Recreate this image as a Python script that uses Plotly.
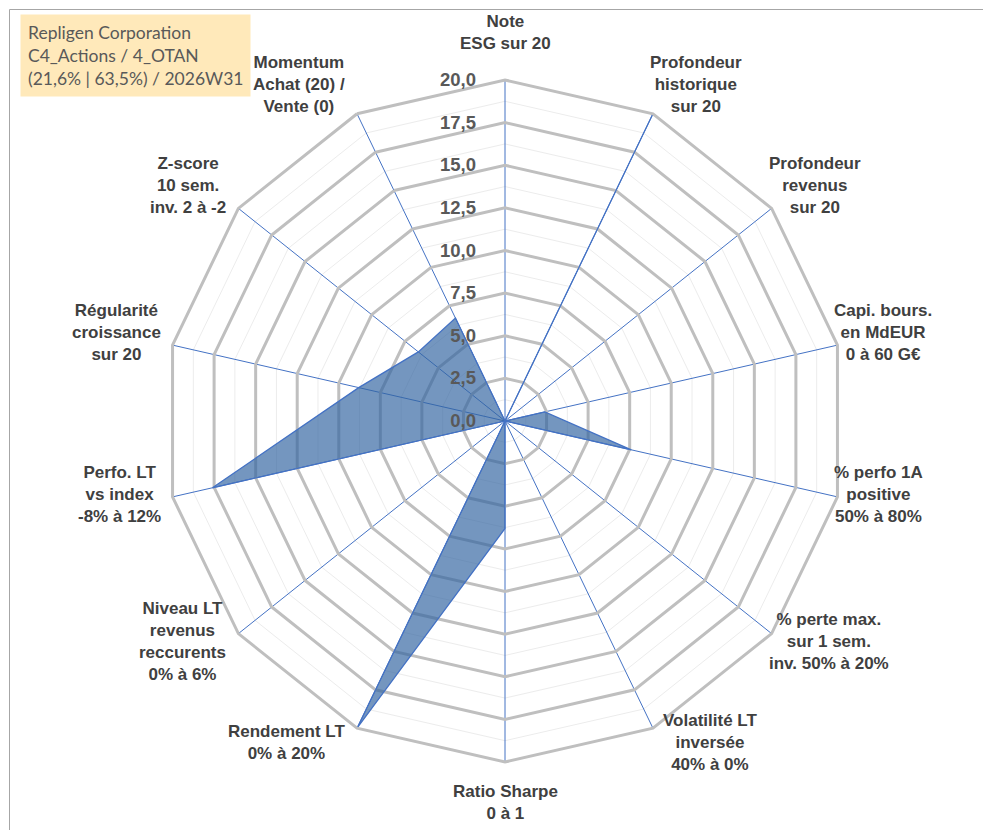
import math
import plotly.graph_objects as go

# axes of the radar, clockwise from the top
categories = [
    "Note<br>ESG sur 20",
    "Profondeur<br>historique<br>sur 20",
    "Profondeur<br>revenus<br>sur 20",
    "Capi. bours.<br>en MdEUR<br>0 à 60 G€",
    "% perfo 1A<br>positive<br>50% à 80%",
    "% perte max.<br>sur 1 sem.<br>inv. 50% à 20%",
    "Volatilité LT<br>inversée<br>40% à 0%",
    "Ratio Sharpe<br>0 à 1",
    "Rendement LT<br>0% à 20%",
    "Niveau LT<br>revenus<br>reccurents<br>0% à 6%",
    "Perfo. LT<br>vs index<br>-8% à 12%",
    "Régularité<br>croissance<br>sur 20",
    "Z-score<br>10 sem.<br>inv. 2 à -2",
    "Momentum<br>Achat (20) /<br>Vente (0)",
]
scores = [0, 20, 0, 2.4, 7.6, 0, 0, 6.3, 20, 0, 17.6, 8.8, 6.5, 6.7]

major_ticks = [0, 2.5, 5, 7.5, 10, 12.5, 15, 17.5, 20]
minor_step = 1.25

title_lines = ["Repligen Corporation", "C4_Actions / 4_OTAN", "(21,6% | 63,5%) / 2026W31"]

W, H = 991, 830
cx, cy, R = 497, 413, 341
dom_x = [(cx - R) / W, (cx + R) / W]
dom_y = [(H - cy - R) / H, (H - cy + R) / H]

fig = go.Figure()

# invisible trace so the minor-grid polar gets the same categories
fig.add_trace(go.Scatterpolar(
    r=[0] * len(categories), theta=categories, mode="none",
    hoverinfo="skip", showlegend=False, subplot="polar",
))

fig.add_trace(go.Scatterpolar(
    r=scores + scores[:1], theta=categories + categories[:1],
    mode="lines", fill="toself",
    line=dict(color="#4472C4", width=1.25),
    fillcolor="rgba(50,100,160,0.68)",
    showlegend=False, subplot="polar2",
))

# category labels placed around the polygon, Excel style
labels = []
n = len(categories)
for i, cat in enumerate(categories):
    a = 2 * math.pi * i / n
    s, c = math.sin(a), math.cos(a)
    if abs(s) < 0.1:
        px = cx
        py = cy - R - 25 if c > 0 else cy + R + 18
        xa, ya = "center", ("bottom" if c > 0 else "top")
    else:
        if s > 0:
            px = cx + s * R + (-5 if c > -0.8 else 8)
        else:
            px = cx + s * R - 10
        py = cy - c * R - c * 24 - 7.5
        xa, ya = ("left" if s > 0 else "right"), "middle"
    labels.append(dict(
        x=px / W, y=1 - py / H, xref="paper", yref="paper",
        xanchor=xa, yanchor=ya, align="center", text=cat, showarrow=False,
        font=dict(family="Liberation Sans", size=17, color="#404040", weight="bold"),
    ))

fig.update_layout(
    width=W, height=H,
    margin=dict(l=0, r=0, t=0, b=0),
    paper_bgcolor="white",
    separators=",.",
    showlegend=False,
    polar=dict(
        domain=dict(x=dom_x, y=dom_y),
        gridshape="linear",
        bgcolor="white",
        radialaxis=dict(range=[0, 20], dtick=minor_step, showticklabels=False,
                        ticks="", showline=False, gridcolor="#ECECEC", gridwidth=1),
        angularaxis=dict(direction="clockwise", rotation=90, showticklabels=False,
                         ticks="", showgrid=False, showline=False),
    ),
    polar2=dict(
        domain=dict(x=dom_x, y=dom_y),
        gridshape="linear",
        bgcolor="rgba(0,0,0,0)",
        radialaxis=dict(
            range=[0, 20], tickvals=major_ticks, tickformat=".1f",
            angle=90, side="counterclockwise", tickangle=90,
            ticks="outside", ticklen=22, tickcolor="rgba(0,0,0,0)", showline=False,
            gridcolor="#BFBFBF", gridwidth=3,
            tickfont=dict(family="Liberation Sans", size=18.5, color="#595959", weight="bold"),
        ),
        angularaxis=dict(
            direction="clockwise", rotation=90, ticks="", showticklabels=False,
            gridcolor="#4472C4", gridwidth=1,
            linecolor="#BFBFBF", linewidth=3,
        ),
    ),
    annotations=labels + [dict(
        x=12 / W, y=1 - 6 / H, xref="paper", yref="paper",
        xanchor="left", yanchor="top", align="left",
        text="<br>".join(title_lines), showarrow=False,
        bgcolor="#FFE9BA", borderpad=7,
        font=dict(family="Lato", size=17.5, color="#595959"),
    )],
    shapes=[dict(type="rect", xref="paper", yref="paper",
                 x0=1.5 / W, x1=989 / W, y0=1 - 828 / H, y1=1 - 1.5 / H,
                 line=dict(color="#A6A6A6", width=1))],
)

fig.write_html("out.html")
